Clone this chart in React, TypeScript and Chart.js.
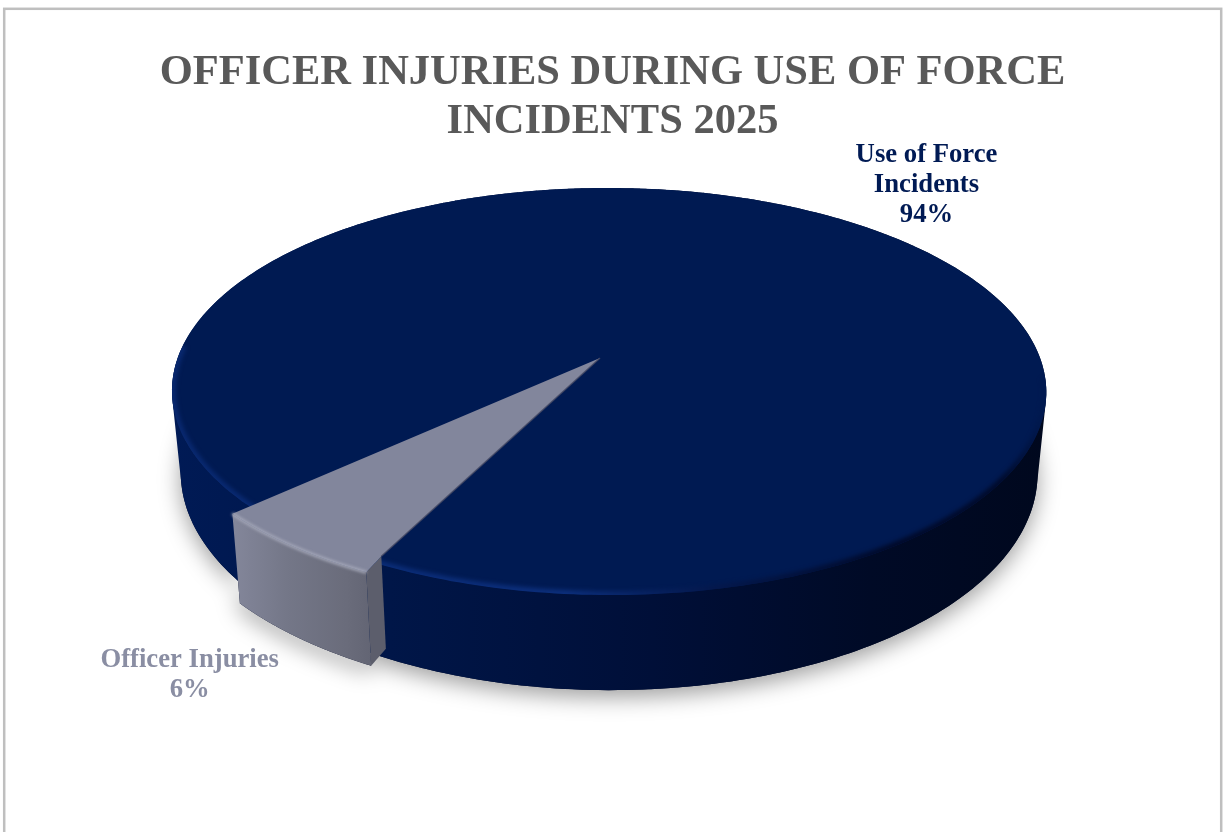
import React, { useEffect, useRef } from "react";
import { Chart, registerables } from "chart.js";

Chart.register(...registerables);

const categories = ["Use of Force Incidents", "Officer Injuries"];
const shares = [94, 6];
const sliceColors = ["#001a52", "#82869c"];
const labelColors = ["#001a54", "#8a8ea3"];
const labelLines = [["Use of Force", "Incidents", "94%"], ["Officer Injuries", "6%"]];
const titleLines = ["OFFICER INJURIES DURING USE OF FORCE", "INCIDENTS 2025"];

const SERIF = '"Liberation Serif", "Times New Roman", serif';
const TAU = Math.PI * 2;
const PULL = { x: -18, y: 6.5 };
const CUT = { x: 15, y: -16 };

type Pt = { x: number; y: number };

// Projection of the flat pie on to the tilted disc.
const flat = (angle: number, rr: number): Pt => {
  const u = rr * Math.cos(angle);
  const v = rr * Math.sin(angle);
  const w = 1 - 0.1646 * v - 0.0206 * u;
  return { x: 600 + (431 * u) / w, y: 358 + (198 * v) / w };
};
const drop = (p: Pt, h: number): Pt => ({
  x: p.x + h * (609 - p.x) * 0.02,
  y: p.y + h * (82 + 0.067 * (p.y - 400)),
});
const pulled = (angle: number): Pt => {
  const p = flat(angle, 1);
  return { x: p.x + PULL.x, y: p.y + PULL.y };
};

const STEPS = 360;

const rimPath = (
  ctx: CanvasRenderingContext2D,
  a0: number,
  a1: number,
  map: (a: number) => Pt,
  move = true,
) => {
  for (let i = 0; i <= STEPS; i++) {
    const p = map(a0 + ((a1 - a0) * i) / STEPS);
    if (i === 0 && move) ctx.moveTo(p.x, p.y);
    else ctx.lineTo(p.x, p.y);
  }
};
const blueTop = (a: number) => flat(a, 1);
const blueBase = (a: number) => drop(flat(a, 1), 1);
const grayBase = (a: number) => drop(pulled(a), 1);

// The wall of the disc as joined strips, so its outline follows the tangent
// between the upper and the lower rim.
const wallStrips = (ctx: CanvasRenderingContext2D) => {
  const step = TAU / STEPS;
  for (let i = 0; i < STEPS; i++) {
    const a = i * step;
    const b = (i + 1.2) * step;
    const p0 = blueTop(a);
    const p1 = blueTop(b);
    const p2 = blueBase(b);
    const p3 = blueBase(a);
    const cross = (p1.x - p0.x) * (p2.y - p0.y) - (p1.y - p0.y) * (p2.x - p0.x);
    ctx.moveTo(p0.x, p0.y);
    if (cross >= 0) {
      ctx.lineTo(p1.x, p1.y);
      ctx.lineTo(p2.x, p2.y);
      ctx.lineTo(p3.x, p3.y);
    } else {
      ctx.lineTo(p3.x, p3.y);
      ctx.lineTo(p2.x, p2.y);
      ctx.lineTo(p1.x, p1.y);
    }
    ctx.closePath();
  }
};

const horiz = (ctx: CanvasRenderingContext2D, x0: number, x1: number, stops: [number, string][]) => {
  const g = ctx.createLinearGradient(x0, 0, x1, 0);
  stops.forEach(([o, c]) => g.addColorStop(o, c));
  return g;
};

const piePlugin = {
  id: "tiltedPie",
  beforeDraw(chart: any) {
    const ctx = chart.ctx as CanvasRenderingContext2D;
    ctx.save();
    ctx.fillStyle = "#ffffff";
    ctx.fillRect(0, 0, chart.width, chart.height);
    ctx.strokeStyle = "#bfbfbf";
    ctx.lineWidth = 2.5;
    ctx.strokeRect(4.2, 8.8, 1217, 860);
    ctx.restore();
  },
  beforeDatasetsDraw(chart: any) {
    const ctx = chart.ctx as CanvasRenderingContext2D;
    const arcs = chart.getDatasetMeta(0).data as any[];
    const norm = (a: number) => ((a % TAU) + TAU) % TAU;
    const grayStart = norm(arcs[1].startAngle);
    const gray = { start: grayStart, end: grayStart + (arcs[1].endAngle - arcs[1].startAngle) };
    const c = flat(0, 0);

    const graySide = () => {
      rimPath(ctx, gray.start, gray.end, pulled);
      rimPath(ctx, gray.end, gray.start, grayBase, false);
      ctx.closePath();
    };

    // ground shadow
    ctx.save();
    ctx.shadowColor = "rgba(0,0,0,0.38)";
    ctx.shadowBlur = 22;
    ctx.shadowOffsetY = 7;
    ctx.fillStyle = "#000a28";
    ctx.beginPath();
    rimPath(ctx, 0, TAU, blueBase);
    ctx.closePath();
    graySide();
    ctx.fill();
    ctx.restore();

    // blue wall
    ctx.fillStyle = horiz(ctx, 172, 1046, [
      [0, "#001a55"],
      [0.25, "#001648"],
      [0.55, "#000f38"],
      [0.8, "#000a26"],
      [1, "#00081e"],
    ]);
    ctx.beginPath();
    wallStrips(ctx);
    ctx.fill();

    // blue top face
    ctx.fillStyle = sliceColors[0];
    ctx.beginPath();
    rimPath(ctx, 0, TAU, blueTop);
    ctx.closePath();
    ctx.fill();

    // soft bevel along the front rim of the blue face
    ctx.save();
    ctx.beginPath();
    rimPath(ctx, 0, TAU, blueTop);
    ctx.closePath();
    ctx.clip();
    ctx.filter = "blur(2px)";
    ctx.lineWidth = 8;
    ctx.strokeStyle = horiz(ctx, 172, 1046, [
      [0, "#08286f"],
      [0.45, "#0c2f7c"],
      [0.62, "#04184c"],
      [0.82, "#000a2a"],
      [0.95, "#000b2c"],
      [1, "#001a52"],
    ]);
    ctx.beginPath();
    rimPath(ctx, 0.1, Math.PI * 1.02, blueTop);
    ctx.stroke();
    ctx.restore();

    // gray wall, with the cut face on its right
    ctx.fillStyle = horiz(ctx, 234, 384, [
      [0, "#83869a"],
      [0.35, "#747788"],
      [0.75, "#6a6c7b"],
      [1, "#5f6170"],
    ]);
    ctx.beginPath();
    graySide();
    ctx.fill();

    const outer = pulled(gray.start);
    const outerBase = grayBase(gray.start);
    const inner = { x: outer.x + CUT.x, y: outer.y + CUT.y };
    const innerBase = drop(inner, 1);
    ctx.fillStyle = "#5c5e6c";
    ctx.beginPath();
    ctx.moveTo(outer.x, outer.y);
    ctx.lineTo(inner.x, inner.y);
    ctx.lineTo(innerBase.x, innerBase.y);
    ctx.lineTo(outerBase.x, outerBase.y);
    ctx.closePath();
    ctx.fill();

    // gray top face
    ctx.fillStyle = sliceColors[1];
    ctx.beginPath();
    ctx.moveTo(c.x, c.y);
    rimPath(ctx, gray.end, gray.start, pulled, false);
    ctx.lineTo(inner.x, inner.y);
    ctx.closePath();
    ctx.fill();

    // gray rim highlight
    ctx.save();
    ctx.filter = "blur(1.4px)";
    ctx.strokeStyle = "#a6a9ba";
    ctx.lineWidth = 3;
    ctx.beginPath();
    rimPath(ctx, gray.start, gray.end, pulled);
    ctx.stroke();
    ctx.restore();

    // shaded edge of the gray face
    ctx.save();
    ctx.strokeStyle = "rgba(70,74,100,0.8)";
    ctx.lineWidth = 1.5;
    ctx.beginPath();
    ctx.moveTo(c.x, c.y);
    ctx.lineTo(inner.x, inner.y);
    ctx.stroke();
    ctx.restore();

    // labels
    ctx.save();
    ctx.font = `bold 26.7px ${SERIF}`;
    ctx.textAlign = "center";
    ctx.textBaseline = "alphabetic";
    const anchors = [
      { x: 926.5, y: 162 },
      { x: 189.7, y: 667 },
    ];
    labelLines.forEach((lines, i) => {
      ctx.fillStyle = labelColors[i];
      lines.forEach((t, j) => ctx.fillText(t, anchors[i].x, anchors[i].y + j * 30));
    });
    ctx.restore();
    return false;
  },
};

export default function App() {
  const ref = useRef<HTMLCanvasElement>(null);
  useEffect(() => {
    document.body.style.margin = "0";
    const chart = new Chart(ref.current!, {
      type: "doughnut",
      data: {
        labels: categories,
        datasets: [{ data: shares, backgroundColor: sliceColors, borderWidth: 0 }],
      },
      options: {
        responsive: false,
        animation: false,
        cutout: 0,
        rotation: 227.1,
        plugins: {
          legend: { display: false },
          tooltip: { enabled: false },
          title: {
            display: true,
            text: titleLines,
            color: "#595959",
            align: "center",
            font: { family: SERIF, size: 42.5, weight: "bold", lineHeight: 1.153 },
            padding: { top: 49, bottom: 0 },
          },
        },
      },
      plugins: [piePlugin],
    } as any);
    return () => chart.destroy();
  }, []);
  return <canvas ref={ref} width={1225} height={832} style={{ display: "block" }} />;
}
